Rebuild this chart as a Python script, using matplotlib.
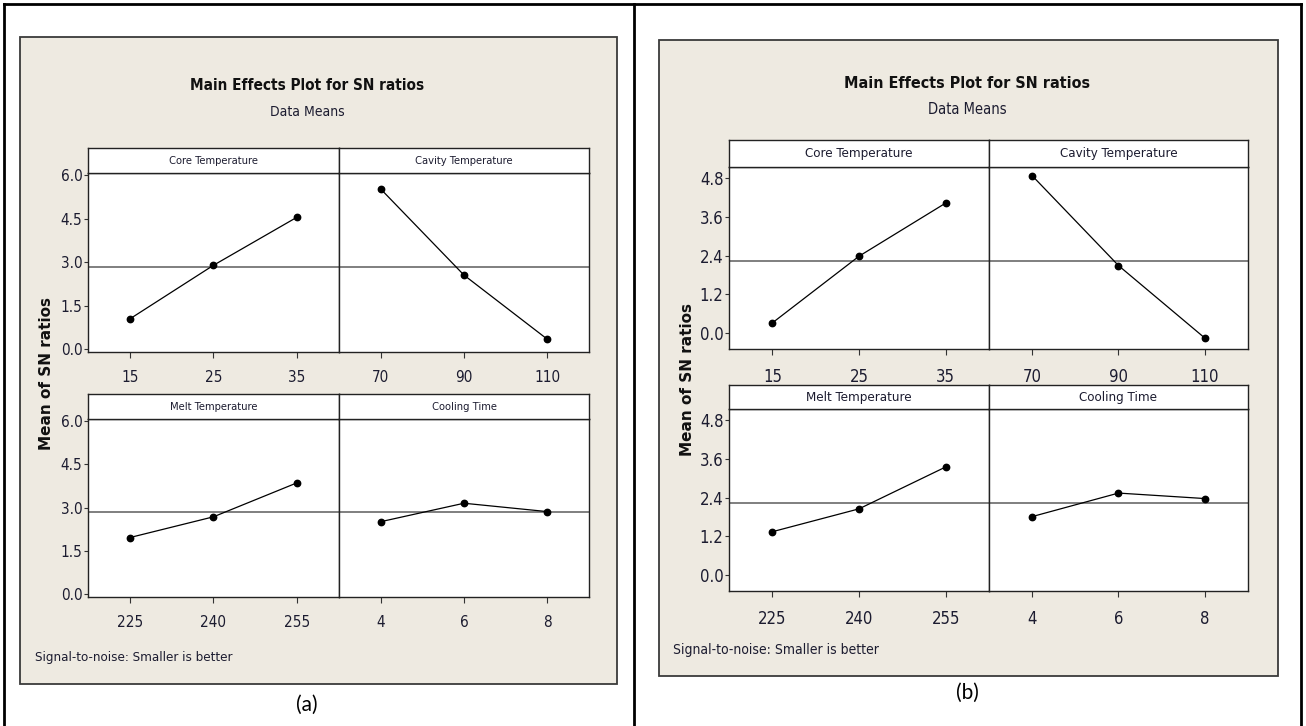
import numpy as np
import matplotlib
matplotlib.use('Agg')
import matplotlib.pyplot as plt
from matplotlib import font_manager
from matplotlib.patches import Rectangle
from matplotlib.lines import Line2D

# factor levels
core_levels = [15, 25, 35]
cavity_levels = [70, 90, 110]
melt_levels = [225, 240, 255]
cooling_levels = [4, 6, 8]
factor_names = ['Core Temperature', 'Cavity Temperature', 'Melt Temperature', 'Cooling Time']

# mean of SN ratios, panel (a)
sn_a_core = [1.04, 2.89, 4.55]
sn_a_cavity = [5.52, 2.55, 0.34]
sn_a_melt = [1.96, 2.68, 3.86]
sn_a_cooling = [2.51, 3.15, 2.86]
mean_a = 2.83
yticks_a = [0.0, 1.5, 3.0, 4.5, 6.0]

# mean of SN ratios, panel (b)
sn_b_core = [0.31, 2.38, 4.03]
sn_b_cavity = [4.88, 2.09, -0.16]
sn_b_melt = [1.34, 2.05, 3.35]
sn_b_cooling = [1.81, 2.54, 2.37]
mean_b = 2.24
yticks_b = [0.0, 1.2, 2.4, 3.6, 4.8]

W, H = 1306, 726
BEIGE = '#EEEAE1'
TXT = '#1c1c30'

installed = {f.name for f in font_manager.fontManager.ttflist}
if 'Liberation Sans Narrow' in installed:
    NARROW = dict(family='Liberation Sans Narrow')
else:
    NARROW = dict(family='DejaVu Sans', stretch='condensed')

fig = plt.figure(figsize=(W / 100, H / 100), dpi=100)
fig.patch.set_facecolor('white')


def px_axes(x0, y0, x1, y1):
    return fig.add_axes([x0 / W, 1 - y1 / H, (x1 - x0) / W, (y1 - y0) / H])


def fig_text(x, y, s, **kw):
    fig.text(x / W, 1 - y / H, s, **kw)


def fig_line(xs, ys, lw=2.0, color='black'):
    fig.add_artist(Line2D([x / W for x in xs], [1 - y / H for y in ys],
                          transform=fig.transFigure, color=color, lw=lw))


def draw_cell(box, header, name, levels, vals, mean, ylim, yticks, show_y, fs_tick, fs_head, xpad):
    x0, y0, x1, y1 = box
    ax = px_axes(x0, y0, x1, y1)
    ax.set_facecolor('white')
    ax.axhline(mean, color='#5c5c5c', lw=1.1, zorder=1)
    ax.plot(range(len(vals)), vals, color='black', lw=0.9, marker='o', ms=4.6, zorder=3)
    ax.set_xlim(-0.5, 2.5)
    ax.set_ylim(*ylim)
    ax.set_xticks(range(len(levels)))
    ax.set_xticklabels([str(v) for v in levels], fontsize=fs_tick, color=TXT, **NARROW)
    ax.tick_params(axis='x', length=4, width=0.8, pad=xpad, color='#333333')
    if show_y:
        ax.set_yticks(yticks)
        ax.set_yticklabels(['%.1f' % v for v in yticks], fontsize=fs_tick, color=TXT, **NARROW)
        ax.tick_params(axis='y', length=3, width=0.8, pad=1, color='#333333')
    else:
        ax.set_yticks([])
    for sp in ax.spines.values():
        sp.set_color('#222222')
        sp.set_linewidth(1.0)
    hx = px_axes(x0, header[0], x1, header[1])
    hx.set_facecolor('white')
    hx.set_xticks([])
    hx.set_yticks([])
    for sp in hx.spines.values():
        sp.set_color('#222222')
        sp.set_linewidth(1.0)
    hx.text(0.5, 0.5, name, ha='center', va='center', fontsize=fs_head, color=TXT,
            transform=hx.transAxes, **NARROW)
    return ax


def draw_panel(p, series, mean, ylim, yticks, label):
    bx0, by0, bx1, by1 = p['box']
    fig.add_artist(Rectangle((bx0 / W, 1 - by1 / H), (bx1 - bx0) / W, (by1 - by0) / H,
                             transform=fig.transFigure, facecolor=BEIGE,
                             edgecolor='#3a3a3a', lw=1.3, zorder=-1))
    fig_text(p['cx'], p['title_y'], 'Main Effects Plot for SN ratios', ha='center', va='center',
             fontsize=p['fs_title'], weight='bold', color='#111111', **NARROW)
    fig_text(p['cx'], p['sub_y'], 'Data Means', ha='center', va='center',
             fontsize=p['fs_sub'], color=TXT, **NARROW)
    cols = p['cols']
    rows = p['rows']
    k = 0
    for r in range(2):
        for c in range(2):
            levels, vals = series[k]
            draw_cell((cols[c], rows[r][1], cols[c + 1], rows[r][2]), (rows[r][0], rows[r][1]),
                      factor_names[k], levels, vals, mean, ylim, yticks, c == 0,
                      p['fs_tick'], p['fs_head'], p['xpad'])
            k += 1
    fig_text(p['ylab_x'], p['ylab_y'], 'Mean of SN ratios', ha='center', va='center',
             rotation=90, fontsize=11, weight='bold', color='#111111', family='DejaVu Sans')
    fig_text(p['note_x'], p['note_y'], 'Signal-to-noise: Smaller is better', ha='left', va='center',
             fontsize=p['fs_note'], color=TXT, **NARROW)
    fig_text(p['cx'], p['cap_y'], label, ha='center', va='center', fontsize=15,
             color='black', family='Lato')


panel_a = dict(box=(20, 37, 617, 684), cx=307, title_y=86, sub_y=112,
               cols=(88, 339, 589), rows=((148, 173, 352), (394, 419, 597)),
               ylab_x=47, ylab_y=373, note_x=35, note_y=657, cap_y=705,
               fs_title=11, fs_sub=10, fs_tick=11, fs_head=8, fs_note=9.5, xpad=9)
panel_b = dict(box=(659, 40, 1278, 676), cx=967, title_y=83, sub_y=110,
               cols=(729, 989, 1248), rows=((140, 167, 349), (385, 409, 591)),
               ylab_x=688, ylab_y=380, note_x=673, note_y=650, cap_y=693,
               fs_title=11.5, fs_sub=10.5, fs_tick=12, fs_head=9.5, fs_note=10, xpad=10)

draw_panel(panel_a, [(core_levels, sn_a_core), (cavity_levels, sn_a_cavity),
                     (melt_levels, sn_a_melt), (cooling_levels, sn_a_cooling)],
           mean_a, (-0.1, 6.07), yticks_a, '(a)')
draw_panel(panel_b, [(core_levels, sn_b_core), (cavity_levels, sn_b_cavity),
                     (melt_levels, sn_b_melt), (cooling_levels, sn_b_cooling)],
           mean_b, (-0.5, 5.15), yticks_b, '(b)')

# table borders round the two figures
fig_line([4, 1301], [4, 4])
fig_line([4, 4], [4, 726])
fig_line([634, 634], [4, 726])
fig_line([1301, 1301], [4, 726])

fig.savefig('out.png', dpi=100, facecolor='white')
